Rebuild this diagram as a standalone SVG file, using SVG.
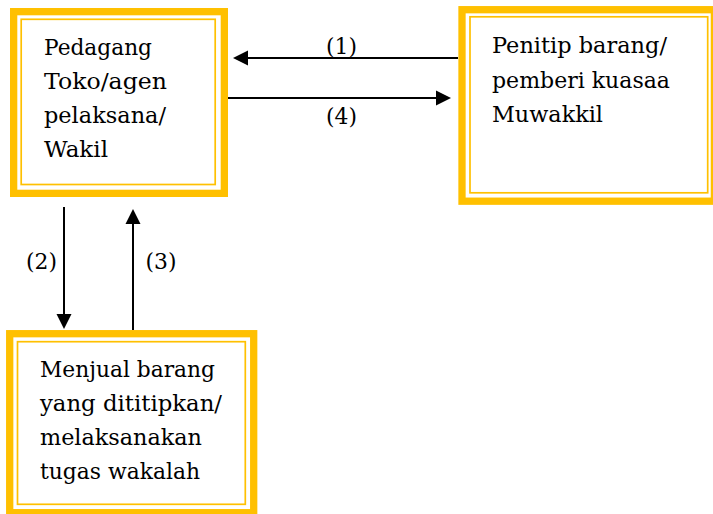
<svg xmlns="http://www.w3.org/2000/svg" width="713" height="514" viewBox="0 0 713 514">
<style>
.outer{fill:#fff;stroke:#FFC000;stroke-width:7.3}
.inner{fill:none;stroke:#FFC000;stroke-width:1.7}
.t{font-family:"DejaVu Serif","Liberation Serif",serif;font-size:23px;fill:#000}
.lbl{font-family:"DejaVu Serif","Liberation Serif",serif;font-size:22px;fill:#000;text-anchor:middle}
.c{stroke:#000;stroke-width:2;fill:none}
</style>
<defs>
<marker id="ah" markerUnits="userSpaceOnUse" markerWidth="16" markerHeight="16" refX="1" refY="7.5" orient="auto" viewBox="0 0 16 15">
<path d="M0,0 L15,7.5 L0,15 Z" fill="#000"/>
</marker>
</defs>
<rect width="713" height="514" fill="#fff"/>
<g id="node-pedagang">
<rect class="outer" x="13.65" y="11.65" width="210.7" height="181.7"/>
<rect class="inner" x="21.2" y="19.3" width="194" height="165.2"/>
<text class="t" x="44" y="55" textLength="108" lengthAdjust="spacingAndGlyphs">Pedagang</text>
<text class="t" x="44" y="89" textLength="123" lengthAdjust="spacingAndGlyphs">Toko/agen</text>
<text class="t" x="44" y="123" textLength="122" lengthAdjust="spacingAndGlyphs">pelaksana/</text>
<text class="t" x="44" y="157" textLength="64" lengthAdjust="spacingAndGlyphs">Wakil</text>
</g>
<g id="node-penitip">
<rect class="outer" x="462" y="9.7" width="252.4" height="191.5"/>
<rect class="inner" x="470" y="16.8" width="237.7" height="176"/>
<text class="t" x="492" y="53" textLength="175" lengthAdjust="spacingAndGlyphs">Penitip barang/</text>
<text class="t" x="492" y="88" textLength="178" lengthAdjust="spacingAndGlyphs">pemberi kuasaa</text>
<text class="t" x="492" y="122" textLength="111" lengthAdjust="spacingAndGlyphs">Muwakkil</text>
</g>
<g id="node-menjual">
<rect class="outer" x="9.7" y="333.7" width="244" height="179"/>
<rect class="inner" x="17.5" y="341.7" width="227.8" height="162.6"/>
<text class="t" x="40" y="377" textLength="175" lengthAdjust="spacingAndGlyphs">Menjual barang</text>
<text class="t" x="40" y="411" textLength="182" lengthAdjust="spacingAndGlyphs">yang dititipkan/</text>
<text class="t" x="40" y="445" textLength="162" lengthAdjust="spacingAndGlyphs">melaksanakan</text>
<text class="t" x="40" y="479" textLength="160" lengthAdjust="spacingAndGlyphs">tugas wakalah</text>
</g>
<g id="connectors">
<line class="c" x1="458" y1="58" x2="247" y2="58" marker-end="url(#ah)"/>
<line class="c" x1="228" y1="98" x2="437" y2="98" marker-end="url(#ah)"/>
<line class="c" x1="64" y1="207" x2="64" y2="315" marker-end="url(#ah)"/>
<line class="c" x1="133" y1="330" x2="133" y2="223" marker-end="url(#ah)"/>
<text class="lbl" x="341.5" y="53.5" textLength="31" lengthAdjust="spacingAndGlyphs">(1)</text>
<text class="lbl" x="341.5" y="124" textLength="31" lengthAdjust="spacingAndGlyphs">(4)</text>
<text class="lbl" x="41.5" y="269" textLength="31" lengthAdjust="spacingAndGlyphs">(2)</text>
<text class="lbl" x="161" y="269" textLength="31" lengthAdjust="spacingAndGlyphs">(3)</text>
</g>
</svg>
